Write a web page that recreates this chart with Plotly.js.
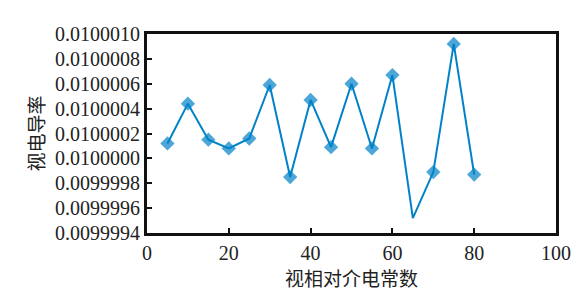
<!DOCTYPE html>
<html>
<head>
<meta charset="utf-8">
<script src="https://cdn.plot.ly/plotly-3.0.1.min.js"></script>
<style>html,body{margin:0;padding:0;background:#fff;}#chart{width:579px;height:297px;}</style>
</head>
<body>
<div id="chart"></div>
<script>
// Data
var permittivity = [5, 10, 15, 20, 25, 30, 35, 40, 45, 50, 55, 60, 65, 70, 75, 80];
var conductivity = [0.01000012, 0.01000044, 0.01000015, 0.01000008, 0.01000016, 0.01000059,
                    0.00999985, 0.01000047, 0.01000009, 0.01000060, 0.01000008, 0.01000067,
                    0.00999952, 0.00999989, 0.01000092, 0.00999987];
var hasMarker = [1, 1, 1, 1, 1, 1, 1, 1, 1, 1, 1, 1, 0, 1, 1, 1];
var xTitle = '视相对介电常数';
var yTitle = '视电导率';

var blue = 'rgb(0,130,200)';
var trace = {
  x: permittivity,
  y: conductivity,
  type: 'scatter',
  mode: 'lines+markers',
  line: {color: blue, width: 2},
  marker: {symbol: 'diamond', color: blue, line: {width: 0},
           size: hasMarker.map(function(m){return m ? 11 : 0;})},
  hoverinfo: 'none'
};

function tickFont() { return {family: 'Liberation Serif', size: 20, color: '#222'}; }
function titleFont() { return {family: 'Noto Sans CJK SC', size: 19, color: '#222'}; }
var layout = {
  width: 579, height: 297,
  margin: {l: 147, r: 23, t: 34, b: 64},
  paper_bgcolor: '#fff', plot_bgcolor: '#fff',
  showlegend: false,
  xaxis: {
    range: [0, 100], dtick: 20, tick0: 0,
    ticks: 'inside', ticklen: 5, tickwidth: 2, tickcolor: '#111',
    showline: true, linecolor: '#111', linewidth: 3, mirror: true,
    showgrid: false, zeroline: false,
    tickfont: tickFont(),
    title: {text: xTitle, font: titleFont(), standoff: 2}
  },
  yaxis: {
    range: [0.0099994, 0.0100010], dtick: 0.0000002, tick0: 0.0099994,
    tickformat: '.7f',
    ticks: 'inside', ticklen: 5, tickwidth: 2, tickcolor: '#111',
    showline: true, linecolor: '#111', linewidth: 3, mirror: true,
    showgrid: false, zeroline: false,
    tickfont: tickFont(),
    title: {text: yTitle, font: titleFont(), standoff: 6}
  }
};
Plotly.newPlot('chart', [trace], layout, {staticPlot: true, displayModeBar: false});
</script>
</body>
</html>
